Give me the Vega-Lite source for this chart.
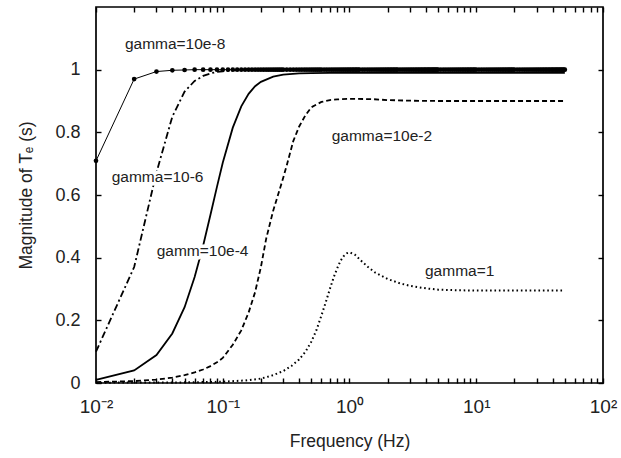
{
"$schema":"https://vega.github.io/schema/vega-lite/v6.json",
"autosize":{"type":"none"},
"width":507,"height":376,
"padding":{"left":96,"top":7,"right":18,"bottom":75},
"background":"white",
"config":{"view":{"stroke":"#000","strokeWidth":1.7},"axis":{"grid":false,"domain":false,"ticks":true,"tickColor":"#000","labelColor":"#222","titleColor":"#222","labelFont":"Liberation Sans","titleFont":"Liberation Sans","titleFontWeight":"normal"}},
"datasets":{
"g8":[{"f":0.01,"T":0.709},{"f":0.02,"T":0.97},{"f":0.03,"T":0.994},{"f":0.04,"T":0.998},{"f":0.05,"T":0.999},{"f":0.06,"T":1},{"f":0.07,"T":1},{"f":0.08,"T":1},{"f":0.09,"T":1},{"f":0.1,"T":1},{"f":0.11,"T":1},{"f":0.12,"T":1},{"f":0.13,"T":1},{"f":0.14,"T":1},{"f":0.15,"T":1},{"f":0.16,"T":1},{"f":0.17,"T":1},{"f":0.18,"T":1},{"f":0.19,"T":1},{"f":0.2,"T":1},{"f":0.21,"T":1},{"f":0.22,"T":1},{"f":0.23,"T":1},{"f":0.24,"T":1},{"f":0.25,"T":1},{"f":0.26,"T":1},{"f":0.27,"T":1},{"f":0.28,"T":1},{"f":0.29,"T":1},{"f":0.3,"T":1},
{"f":0.32,"T":1},{"f":0.34,"T":1},{"f":0.36,"T":1},{"f":0.38,"T":1},{"f":0.4,"T":1},{"f":0.42,"T":1},{"f":0.44,"T":1},{"f":0.46,"T":1},{"f":0.48,"T":1},{"f":0.5,"T":1},{"f":0.52,"T":1},{"f":0.54,"T":1},{"f":0.56,"T":1},{"f":0.58,"T":1},{"f":0.6,"T":1},
{"f":0.63,"T":1},{"f":0.66,"T":1},{"f":0.69,"T":1},{"f":0.72,"T":1},{"f":0.75,"T":1},{"f":0.78,"T":1},{"f":0.81,"T":1},{"f":0.84,"T":1},{"f":0.87,"T":1},{"f":0.9,"T":1},{"f":0.93,"T":1},{"f":0.96,"T":1},{"f":0.99,"T":1},{"f":1.02,"T":1},{"f":1.05,"T":1},{"f":1.08,"T":1},{"f":1.11,"T":1},{"f":1.14,"T":1},{"f":1.17,"T":1},{"f":1.2,"T":1},
{"f":1.26,"T":1},{"f":1.32,"T":1},{"f":1.38,"T":1},{"f":1.44,"T":1},{"f":1.5,"T":1},{"f":1.56,"T":1},{"f":1.62,"T":1},{"f":1.68,"T":1},{"f":1.74,"T":1},{"f":1.8,"T":1},{"f":1.86,"T":1},{"f":1.92,"T":1},{"f":1.98,"T":1},{"f":2.04,"T":1},{"f":2.1,"T":1},{"f":2.16,"T":1},{"f":2.22,"T":1},{"f":2.28,"T":1},{"f":2.34,"T":1},{"f":2.4,"T":1},
{"f":2.5,"T":1},{"f":2.6,"T":1},{"f":2.7,"T":1},{"f":2.8,"T":1},{"f":2.9,"T":1},{"f":3.0,"T":1},{"f":3.1,"T":1},{"f":3.2,"T":1},{"f":3.3,"T":1},{"f":3.4,"T":1},{"f":3.5,"T":1},{"f":3.6,"T":1},{"f":3.7,"T":1},{"f":3.8,"T":1},{"f":3.9,"T":1},{"f":4.0,"T":1},{"f":4.1,"T":1},{"f":4.2,"T":1},{"f":4.3,"T":1},{"f":4.4,"T":1},{"f":4.5,"T":1},{"f":4.6,"T":1},{"f":4.7,"T":1},{"f":4.8,"T":1},{"f":4.9,"T":1},{"f":5.0,"T":1},
{"f":5.25,"T":1},{"f":5.5,"T":1},{"f":5.75,"T":1},{"f":6,"T":1},{"f":6.25,"T":1},{"f":6.5,"T":1},{"f":6.75,"T":1},{"f":7,"T":1},{"f":7.25,"T":1},{"f":7.5,"T":1},{"f":7.75,"T":1},{"f":8,"T":1},{"f":8.25,"T":1},{"f":8.5,"T":1},{"f":8.75,"T":1},{"f":9,"T":1},{"f":9.25,"T":1},{"f":9.5,"T":1},{"f":9.75,"T":1},{"f":10,"T":1},
{"f":10.5,"T":1},{"f":11,"T":1},{"f":11.5,"T":1},{"f":12,"T":1},{"f":12.5,"T":1},{"f":13,"T":1},{"f":13.5,"T":1},{"f":14,"T":1},{"f":14.5,"T":1},{"f":15,"T":1},{"f":15.5,"T":1},{"f":16,"T":1},{"f":16.5,"T":1},{"f":17,"T":1},{"f":17.5,"T":1},{"f":18,"T":1},{"f":18.5,"T":1},{"f":19,"T":1},{"f":19.5,"T":1},{"f":20,"T":1},
{"f":21,"T":1},{"f":22,"T":1},{"f":23,"T":1},{"f":24,"T":1},{"f":25,"T":1},{"f":26,"T":1},{"f":27,"T":1},{"f":28,"T":1},{"f":29,"T":1},{"f":30,"T":1},{"f":31,"T":1},{"f":32,"T":1},{"f":33,"T":1},{"f":34,"T":1},{"f":35,"T":1},{"f":36,"T":1},{"f":37,"T":1},{"f":38,"T":1},{"f":39,"T":1},{"f":40,"T":1},{"f":41,"T":1},{"f":42,"T":1},{"f":43,"T":1},{"f":44,"T":1},{"f":45,"T":1},{"f":46,"T":1},{"f":47,"T":1},{"f":48,"T":1},{"f":49,"T":1},{"f":50,"T":1}],
"g6":[{"f":0.01,"T":0.1},{"f":0.02,"T":0.37},{"f":0.03,"T":0.672},{"f":0.04,"T":0.85},{"f":0.05,"T":0.93},{"f":0.06,"T":0.964},{"f":0.07,"T":0.98},{"f":0.08,"T":0.988},{"f":0.09,"T":0.993},{"f":0.1,"T":0.995},{"f":0.12,"T":0.998},{"f":0.15,"T":0.999},{"f":0.2,"T":1},{"f":0.5,"T":1},{"f":1,"T":1},{"f":2,"T":1},{"f":5,"T":1},{"f":10,"T":1},{"f":20,"T":1},{"f":50,"T":1}],
"g4":[{"f":0.01,"T":0.01},{"f":0.02,"T":0.04},{"f":0.03,"T":0.089},{"f":0.04,"T":0.158},{"f":0.05,"T":0.242},{"f":0.06,"T":0.338},{"f":0.07,"T":0.438},{"f":0.08,"T":0.537},{"f":0.09,"T":0.626},{"f":0.1,"T":0.703},{"f":0.12,"T":0.815},{"f":0.14,"T":0.883},{"f":0.16,"T":0.923},{"f":0.18,"T":0.947},{"f":0.2,"T":0.961},{"f":0.25,"T":0.978},{"f":0.3,"T":0.984},{"f":0.4,"T":0.988},{"f":0.5,"T":0.989},{"f":0.7,"T":0.99},{"f":1,"T":0.99},{"f":2,"T":0.99},{"f":5,"T":0.99},{"f":10,"T":0.99},{"f":20,"T":0.99},{"f":50,"T":0.99}],
"g2":[{"f":0.01,"T":0.003},{"f":0.02,"T":0.006},{"f":0.03,"T":0.011},{"f":0.04,"T":0.017},{"f":0.05,"T":0.025},{"f":0.06,"T":0.034},{"f":0.07,"T":0.043},{"f":0.08,"T":0.054},{"f":0.09,"T":0.066},{"f":0.1,"T":0.08},{"f":0.12,"T":0.122},{"f":0.14,"T":0.168},{"f":0.16,"T":0.225},{"f":0.18,"T":0.29},{"f":0.2,"T":0.37},{"f":0.22,"T":0.46},{"f":0.25,"T":0.55},{"f":0.28,"T":0.615},{"f":0.3,"T":0.655},{"f":0.32,"T":0.695},{"f":0.36,"T":0.772},{"f":0.4,"T":0.818},{"f":0.45,"T":0.855},{"f":0.5,"T":0.88},{"f":0.6,"T":0.897},{"f":0.7,"T":0.903},{"f":0.8,"T":0.905},{"f":1,"T":0.907},{"f":1.5,"T":0.906},{"f":2,"T":0.903},{"f":3,"T":0.901},{"f":5,"T":0.9},{"f":10,"T":0.9},{"f":20,"T":0.9},{"f":50,"T":0.9}],
"g0":[{"f":0.01,"T":0.001},{"f":0.05,"T":0.002},{"f":0.1,"T":0.004},{"f":0.15,"T":0.008},{"f":0.2,"T":0.014},{"f":0.25,"T":0.025},{"f":0.3,"T":0.038},{"f":0.35,"T":0.055},{"f":0.4,"T":0.075},{"f":0.45,"T":0.1},{"f":0.5,"T":0.132},{"f":0.55,"T":0.17},{"f":0.6,"T":0.215},{"f":0.65,"T":0.258},{"f":0.7,"T":0.3},{"f":0.75,"T":0.337},{"f":0.8,"T":0.366},{"f":0.85,"T":0.39},{"f":0.9,"T":0.405},{"f":0.95,"T":0.414},{"f":1,"T":0.417},{"f":1.1,"T":0.41},{"f":1.2,"T":0.395},{"f":1.4,"T":0.37},{"f":1.6,"T":0.352},{"f":2,"T":0.332},{"f":2.5,"T":0.318},{"f":3,"T":0.31},{"f":4,"T":0.302},{"f":5,"T":0.298},{"f":7,"T":0.296},{"f":10,"T":0.295},{"f":20,"T":0.295},{"f":50,"T":0.295}],
"labels":[{"f":0.0169,"T":1.083,"label":"gamma=10e-8"},{"f":0.0133,"T":0.659,"label":"gamma=10-6"},{"f":0.0301,"T":0.42,"label":"gamm=10e-4"},{"f":0.724,"T":0.787,"label":"gamma=10e-2"},{"f":3.94,"T":0.358,"label":"gamma=1"}]
},
"layer":[
{"data":{"name":"g0"},"mark":{"type":"line","color":"#000","strokeWidth":2,"strokeDash":[1.6,2.8]},
"encoding":{
"x":{"field":"f","type":"quantitative","scale":{"type":"log","domain":[0.01,100],"nice":false},
"axis":{"orient":"bottom","offset":-5,"values":[0.01,0.02,0.03,0.04,0.05,0.06,0.07,0.08,0.09,0.1,0.2,0.3,0.4,0.5,0.6,0.7,0.8,0.9,1,2,3,4,5,6,7,8,9,10,20,30,40,50,60,70,80,90,100],
"labelExpr":"datum.value == 0.01 ? '10⁻²' : datum.value == 0.1 ? '10⁻¹' : datum.value == 1 ? '10⁰' : datum.value == 10 ? '10¹' : datum.value == 100 ? '10²' : ''",
"tickSize":5,"tickWidth":1.4,"labelPadding":14,"labelFontSize":19,"labelFlush":false,"labelOverlap":false,
"title":"Frequency (Hz)","titleFontSize":17.5,"titlePadding":16}},
"y":{"field":"T","type":"quantitative","scale":{"domain":[0,1.2],"nice":false,"zero":false},
"axis":{"orient":"left","offset":-5,"values":[0,0.2,0.4,0.6,0.8,1],"format":".1~f","tickSize":5,"tickWidth":1.4,"labelPadding":16,"labelFontSize":18,
"title":"Magnitude of Tₑ (s)","titleFontSize":17.5,"titlePadding":19}}
}},
{"data":{"name":"g2"},"mark":{"type":"line","color":"#000","strokeWidth":1.8,"strokeDash":[5,3]},
"encoding":{"x":{"field":"f","type":"quantitative","axis":null},"y":{"field":"T","type":"quantitative","axis":null}}},
{"data":{"name":"g4"},"mark":{"type":"line","color":"#000","strokeWidth":1.8},
"encoding":{"x":{"field":"f","type":"quantitative","axis":null},"y":{"field":"T","type":"quantitative","axis":null}}},
{"data":{"name":"g6"},"mark":{"type":"line","color":"#000","strokeWidth":1.8,"strokeDash":[7,3,2,3]},
"encoding":{"x":{"field":"f","type":"quantitative","axis":null},"y":{"field":"T","type":"quantitative","axis":null}}},
{"data":{"name":"g8"},"mark":{"type":"line","color":"#000","strokeWidth":1},
"encoding":{"x":{"field":"f","type":"quantitative","axis":null},"y":{"field":"T","type":"quantitative","axis":null}}},
{"data":{"name":"g8"},"mark":{"type":"point","filled":true,"color":"#000","size":22,"opacity":1,"strokeWidth":0},
"encoding":{"x":{"field":"f","type":"quantitative","axis":null},"y":{"field":"T","type":"quantitative","axis":null}}},
{"data":{"name":"labels"},"mark":{"type":"text","align":"left","baseline":"middle","font":"Liberation Sans","fontSize":15.5,"fill":"white","stroke":"white","strokeWidth":7,"strokeJoin":"round"},
"encoding":{"text":{"field":"label"},"x":{"field":"f","type":"quantitative","axis":null},"y":{"field":"T","type":"quantitative","axis":null}}},
{"data":{"name":"labels"},"mark":{"type":"text","align":"left","baseline":"middle","font":"Liberation Sans","fontSize":15.5,"fill":"#222"},
"encoding":{"text":{"field":"label"},
"x":{"field":"f","type":"quantitative",
"axis":{"orient":"top","offset":-5,"values":[0.01,0.02,0.03,0.04,0.05,0.06,0.07,0.08,0.09,0.1,0.2,0.3,0.4,0.5,0.6,0.7,0.8,0.9,1,2,3,4,5,6,7,8,9,10,20,30,40,50,60,70,80,90,100],"labels":false,"title":null,"tickSize":5,"tickWidth":1.4}},
"y":{"field":"T","type":"quantitative",
"axis":{"orient":"right","offset":-5,"values":[0,0.2,0.4,0.6,0.8,1],"labels":false,"title":null,"tickSize":5,"tickWidth":1.4}}
}}
],
"resolve":{"axis":{"x":"independent","y":"independent"}}
}
